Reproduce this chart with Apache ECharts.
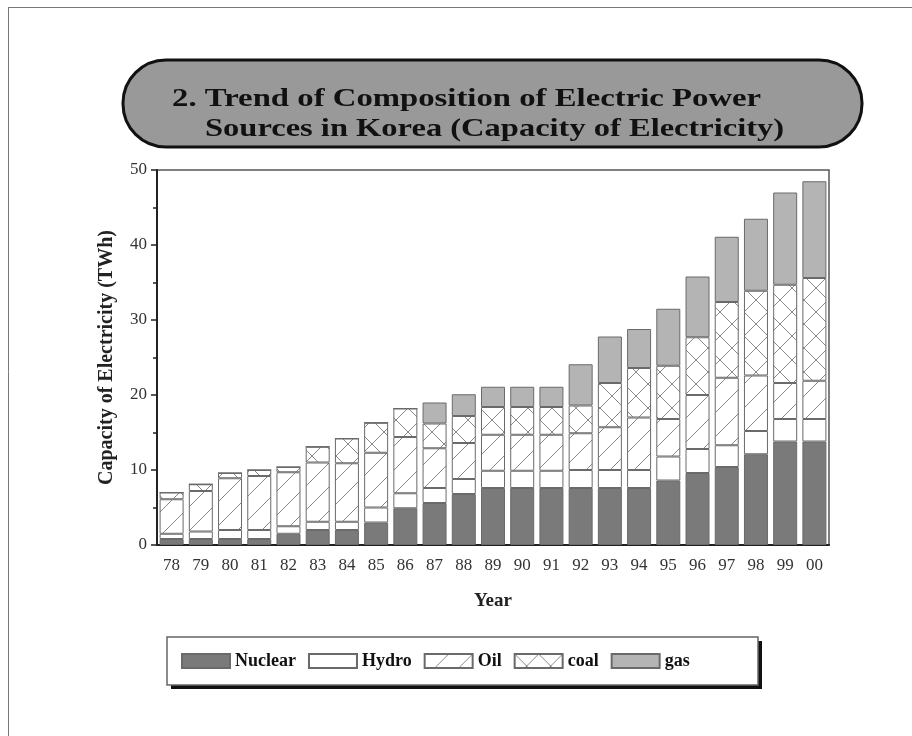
<!DOCTYPE html>
<html>
<head>
<meta charset="utf-8">
<script src="https://cdn.jsdelivr.net/npm/echarts@6/dist/echarts.min.js"></script>
<style>
html,body{margin:0;padding:0;background:#fff;}
#chart{width:912px;height:736px;}
</style>
</head>
<body>
<div id="chart"></div>
<script>
const years = ['78','79','80','81','82','83','84','85','86','87','88','89','90','91','92','93','94','95','96','97','98','99','00'];
const nuclear = [0.8,0.8,0.8,0.8,1.5,2.0,2.0,3.0,4.9,5.6,6.8,7.6,7.6,7.6,7.6,7.6,7.6,8.6,9.6,10.4,12.1,13.8,13.8];
const hydro   = [0.7,1.0,1.2,1.2,1.0,1.1,1.1,2.0,2.0,2.0,2.0,2.3,2.3,2.3,2.4,2.4,2.4,3.2,3.2,2.9,3.1,3.0,3.0];
const oil     = [4.6,5.4,6.9,7.2,7.2,7.9,7.8,7.3,7.5,5.3,4.8,4.8,4.8,4.8,4.9,5.7,7.0,5.0,7.2,9.0,7.4,4.8,5.1];
const coal    = [0.9,0.9,0.7,0.8,0.7,2.1,3.3,4.0,3.8,3.3,3.6,3.7,3.7,3.7,3.7,5.9,6.6,7.1,7.7,10.1,11.3,13.1,13.7];
const gas     = [0,0,0,0,0,0,0,0,0,2.8,2.9,2.7,2.7,2.7,5.5,6.2,5.2,7.6,8.1,8.7,9.6,12.3,12.9];
const yTicks  = [0,10,20,30,40,50];

function makePattern(kind){
  const c = document.createElement('canvas');
  c.width = 24; c.height = 24;
  const g = c.getContext('2d');
  g.fillStyle = '#fff'; g.fillRect(0,0,24,24);
  g.strokeStyle = '#8a8a8a'; g.lineWidth = 1;
  g.beginPath();
  g.moveTo(0,24); g.lineTo(24,0);
  if(kind === 'x'){ g.moveTo(0,0); g.lineTo(24,24); }
  g.stroke();
  return {image: c, repeat: 'repeat'};
}
const oilFill = makePattern('slash');
const coalFill = makePattern('x');

const serif = '"Liberation Serif","DejaVu Serif",serif';
const chart = echarts.init(document.getElementById('chart'), null, {renderer:'canvas'});

function ser(name, data, color){
  return {
    name, type:'bar', stack:'all', data, barWidth:24,
    itemStyle:{color, borderColor:'#6a6a6a', borderWidth:1},
    emphasis:{disabled:true}
  };
}

chart.setOption({
  animation:false,
  backgroundColor:'#fff',
  grid:{left:157, right:83, top:170, bottom:191, show:true, borderColor:'#555', borderWidth:1.5},
  xAxis:{
    type:'category', data:years,
    name:'Year', nameLocation:'middle', nameGap:47,
    nameTextStyle:{fontFamily:serif, fontWeight:'bold', fontSize:19, color:'#222'},
    axisLine:{lineStyle:{color:'#222', width:2}},
    axisTick:{show:false},
    axisLabel:{fontFamily:serif, fontSize:17, color:'#333', margin:12}
  },
  yAxis:{
    type:'value', min:yTicks[0], max:yTicks[yTicks.length-1], interval:10,
    name:'Capacity of Electricity (TWh)', nameLocation:'middle', nameGap:40,
    nameTextStyle:{fontFamily:serif, fontWeight:'bold', fontSize:20, color:'#222'},
    axisLine:{show:true, lineStyle:{color:'#222', width:2}},
    axisTick:{show:true, length:6, lineStyle:{color:'#222', width:1.5}},
    minorTick:{show:true, splitNumber:2, length:4, lineStyle:{color:'#222', width:1.5}},
    splitLine:{show:false},
    axisLabel:{fontFamily:serif, fontSize:17, color:'#333', margin:10}
  },
  legend:{
    left:176, top:647, itemWidth:48, itemHeight:14, itemGap:12,
    icon:'rect',
    textStyle:{fontFamily:serif, fontWeight:'bold', fontSize:18, color:'#111'},
    data:['Nuclear','Hydro','Oil','coal','gas']
  },
  graphic:[
    {type:'line', shape:{x1:8, y1:7.5, x2:912, y2:7.5}, style:{stroke:'#777', lineWidth:1}, z:-10},
    {type:'line', shape:{x1:8.5, y1:7, x2:8.5, y2:736}, style:{stroke:'#777', lineWidth:1}, z:-10},
    {type:'rect', shape:{x:123, y:60, width:739, height:87, r:43}, style:{fill:'#999', stroke:'#111', lineWidth:3}, z:-5},
    {type:'text', x:172, y:87, scaleX:1.31, style:{text:'2. Trend of Composition of Electric Power', font:'bold 25px '+serif, fill:'#111'}},
    {type:'text', x:205, y:117, scaleX:1.30, style:{text:'Sources in Korea (Capacity of Electricity)', font:'bold 25px '+serif, fill:'#111'}},
    {type:'rect', shape:{x:171, y:641, width:591, height:48}, style:{fill:'#111'}, z:-6},
    {type:'rect', shape:{x:167, y:637, width:591, height:48}, style:{fill:'#fff', stroke:'#666', lineWidth:1.5}, z:-5}
  ],
  series:[
    ser('Nuclear', nuclear, '#7a7a7a'),
    ser('Hydro', hydro, '#ffffff'),
    ser('Oil', oil, oilFill),
    ser('coal', coal, coalFill),
    ser('gas', gas, '#b4b4b4')
  ]
});
</script>
</body>
</html>
